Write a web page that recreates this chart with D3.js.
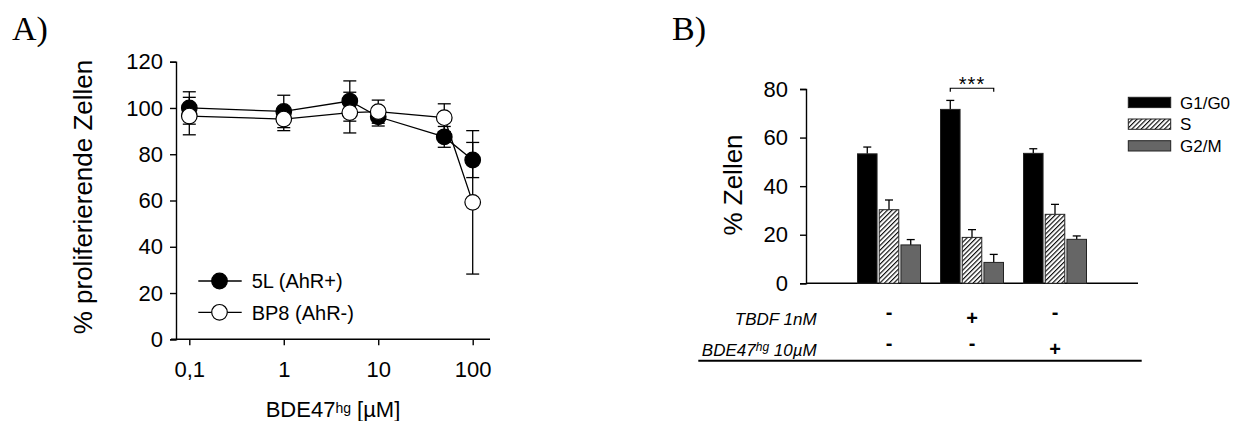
<!DOCTYPE html>
<html><head><meta charset="utf-8">
<script src="https://cdn.jsdelivr.net/npm/d3@7"></script>
<style>body{margin:0;background:#fff}</style>
</head><body>
<svg id="c" width="1239" height="421" xmlns="http://www.w3.org/2000/svg"></svg>
<script>
// ---------- Panel A data ----------
const concentrations = [0.1, 1, 5, 10, 50, 100];
const xTickValuesA = [0.1, 1, 10, 100];
const xTickLabelsA = ["0,1", "1", "10", "100"];
const yTicksA = [0, 20, 40, 60, 80, 100, 120];
const mean5L = [100, 98.5, 103, 96.2, 87.5, 77.5];
const err5L = [7, 7, 8.7, 4, 4.5, 7.6];
const meanBP8 = [96.5, 95.2, 98, 98.4, 95.8, 59.2];
const errBP8 = [8.1, 5, 8.8, 5, 6, 31];
const seriesNamesA = ["5L (AhR+)", "BP8 (AhR-)"];

// ---------- Panel B data ----------
const groupsB = ["ctrl", "TBDF", "BDE47"];
const phases = ["G1/G0", "S", "G2/M"];
const g1g0 = [53.3, 71.6, 53.5];
const g1g0Err = [2.8, 3.7, 1.9];
const sPhase = [30.3, 18.9, 28.4];
const sPhaseErr = [4.0, 3.2, 4.1];
const g2m = [15.8, 8.6, 18.1];
const g2mErr = [2.2, 3.3, 1.4];
const yTicksB = [0, 20, 40, 60, 80];
const tbdfSigns = ["-", "+", "-"];
const bdeSigns = ["-", "-", "+"];
const sigLabel = "***";
const sigGroup = 1; // TBDF group, G1/G0 vs G2/M

const SANS = "'Liberation Sans', Arial, Helvetica, sans-serif";
const SERIF = "'Liberation Serif', 'Times New Roman', serif";
const svg = d3.select("#c");

// ================= PANEL A =================
const xA = d3.scaleLog().domain([0.1, 100]).range([189.3, 472.7]);
const yA = d3.scaleLinear().domain([0, 120]).range([339.3, 61.7]);
const gA = svg.append("g");

gA.append("text").attr("x", 12).attr("y", 40).attr("font-family", SERIF)
  .attr("font-size", 34).text("A)");

const yAxisA = gA.append("g").attr("transform", "translate(176,0)")
  .call(d3.axisLeft(yA).tickValues(yTicksA).tickSizeOuter(0).tickSize(6).tickPadding(7));
const xAxisA = gA.append("g").attr("transform", `translate(0,${yA(0)})`)
  .call(d3.axisBottom(xA).tickValues(xTickValuesA).tickFormat((d, i) => xTickLabelsA[i])
    .tickSizeOuter(0).tickSize(6).tickPadding(16));
xAxisA.select(".domain").remove();
gA.append("line").attr("x1", 171).attr("x2", 490).attr("y1", yA(0)).attr("y2", yA(0))
  .attr("stroke", "#000").attr("stroke-width", 1.4);
[yAxisA, xAxisA].forEach(a => {
  a.selectAll("text").attr("font-family", SANS).attr("font-size", 22).attr("fill", "#000");
  a.selectAll("line, path").attr("stroke", "#000").attr("stroke-width", 1.4);
});

gA.append("text").attr("transform", "translate(92,197) rotate(-90)")
  .attr("text-anchor", "middle").attr("font-family", SANS).attr("font-size", 26)
  .text("% proliferierende Zellen");

const xlab = gA.append("text").attr("x", 333).attr("y", 417).attr("text-anchor", "middle")
  .attr("font-family", SANS).attr("font-size", 22);
xlab.append("tspan").text("BDE47");
xlab.append("tspan").attr("font-size", 14).attr("dy", -4).text("hg");
xlab.append("tspan").attr("dy", 4).text(" [µM]");

const seriesA = [
  { name: seriesNamesA[0], fill: "#000", vals: mean5L, errs: err5L },
  { name: seriesNamesA[1], fill: "#fff", vals: meanBP8, errs: errBP8 }
];
const lineGen = d3.line().x(d => xA(d.x)).y(d => yA(d.y));
seriesA.forEach(s => {
  const pts = concentrations.map((c, i) => ({ x: c, y: s.vals[i], e: s.errs[i] }));
  const eb = gA.append("g");
  pts.forEach(p => {
    const cx = xA(p.x);
    eb.append("line").attr("x1", cx).attr("x2", cx).attr("y1", yA(p.y - p.e)).attr("y2", yA(p.y + p.e))
      .attr("stroke", "#000").attr("stroke-width", 1.3);
    [p.y - p.e, p.y + p.e].forEach(v => eb.append("line").attr("x1", cx - 6.5).attr("x2", cx + 6.5)
      .attr("y1", yA(v)).attr("y2", yA(v)).attr("stroke", "#000").attr("stroke-width", 1.3));
  });
  gA.append("path").datum(pts).attr("d", lineGen).attr("fill", "none")
    .attr("stroke", "#000").attr("stroke-width", 1.3);
  gA.append("g").selectAll("circle").data(pts).join("circle")
    .attr("cx", d => xA(d.x)).attr("cy", d => yA(d.y)).attr("r", 7.8)
    .attr("fill", s.fill).attr("stroke", "#000").attr("stroke-width", 1.2);
});

// legend A
const legA = gA.append("g");
seriesA.forEach((s, i) => {
  const cy = 281 + i * 31.3;
  legA.append("line").attr("x1", 198.3).attr("x2", 241.7).attr("y1", cy).attr("y2", cy)
    .attr("stroke", "#000").attr("stroke-width", 1.3);
  legA.append("circle").attr("cx", 219.5).attr("cy", cy).attr("r", 7.8)
    .attr("fill", s.fill).attr("stroke", "#000").attr("stroke-width", 1.2);
  legA.append("text").attr("x", 251.7).attr("y", cy + 7.2).attr("font-family", SANS)
    .attr("font-size", 20).text(s.name);
});

// ================= PANEL B =================
const gB = svg.append("g");
gB.append("text").attr("x", 672).attr("y", 40).attr("font-family", SERIF)
  .attr("font-size", 34).text("B)");

const defs = svg.append("defs");
const pat = defs.append("pattern").attr("id", "hatch").attr("patternUnits", "userSpaceOnUse")
  .attr("width", 3.3).attr("height", 3.3).attr("patternTransform", "rotate(45)");
pat.append("rect").attr("width", 3.3).attr("height", 3.3).attr("fill", "#fff");
pat.append("line").attr("x1", 0.6).attr("x2", 0.6).attr("y1", 0).attr("y2", 3.3)
  .attr("stroke", "#000").attr("stroke-width", 1.1);

const xB = d3.scaleLinear().domain([0, groupsB.length + 1]).range([806, 1138]);
const yB = d3.scaleLinear().domain([0, 80]).range([283.3, 89]);
const inner = d3.scaleBand().domain(phases).range([-31.5, 31.5]).paddingInner(0.1);
const fills = { "G1/G0": "#000", "S": "url(#hatch)", "G2/M": "#666" };

const yAxisB = gB.append("g").attr("transform", "translate(806,0)")
  .call(d3.axisLeft(yB).tickValues(yTicksB).tickSizeOuter(0).tickSize(6).tickPadding(12));
yAxisB.selectAll("text").attr("font-family", SANS).attr("font-size", 22).attr("fill", "#000");
yAxisB.selectAll("line, path").attr("stroke", "#000").attr("stroke-width", 1.4);
gB.append("line").attr("x1", xB.range()[0]).attr("x2", xB.range()[1])
  .attr("y1", yB(0)).attr("y2", yB(0)).attr("stroke", "#000").attr("stroke-width", 1.4);

gB.append("text").attr("transform", "translate(742,185) rotate(-90)")
  .attr("text-anchor", "middle").attr("font-family", SANS).attr("font-size", 26)
  .text("% Zellen");

const valsB = { "G1/G0": [g1g0, g1g0Err], "S": [sPhase, sPhaseErr], "G2/M": [g2m, g2mErr] };
const barData = [];
groupsB.forEach((g, gi) => phases.forEach(p => barData.push({
  gi, p, v: valsB[p][0][gi], e: valsB[p][1][gi]
})));
const bw = inner.bandwidth();
const bars = gB.append("g");
barData.forEach(d => {
  const x0 = xB(d.gi + 1) + inner(d.p);
  const cx = x0 + bw / 2;
  bars.append("line").attr("x1", cx).attr("x2", cx).attr("y1", yB(d.v)).attr("y2", yB(d.v + d.e))
    .attr("stroke", "#000").attr("stroke-width", 1.3);
  bars.append("line").attr("x1", cx - 4).attr("x2", cx + 4).attr("y1", yB(d.v + d.e)).attr("y2", yB(d.v + d.e))
    .attr("stroke", "#000").attr("stroke-width", 1.3);
  bars.append("rect").attr("x", x0).attr("y", yB(d.v)).attr("width", bw).attr("height", yB(0) - yB(d.v))
    .attr("fill", fills[d.p]).attr("stroke", "#222").attr("stroke-width", 1);
});

// significance bracket
const bx1 = xB(sigGroup + 1) + inner(phases[0]) + bw / 2;
const bx2 = xB(sigGroup + 1) + inner(phases[2]) + bw / 2;
const by = yB(80.3);
gB.append("path").attr("d", `M${bx1},${by + 3.5}V${by}H${bx2}V${by + 3.5}`)
  .attr("fill", "none").attr("stroke", "#000").attr("stroke-width", 1.2);
gB.append("text").attr("x", (bx1 + bx2) / 2).attr("y", by + 3).attr("text-anchor", "middle")
  .attr("font-family", SANS).attr("font-size", 20).attr("letter-spacing", 1).text(sigLabel);

// legend B
phases.forEach((p, i) => {
  const top = 97.3 + i * 21.7;
  gB.append("rect").attr("x", 1128.3).attr("y", top).attr("width", 42.4).attr("height", 10.3)
    .attr("fill", fills[p]).attr("stroke", "#222").attr("stroke-width", 1);
  gB.append("text").attr("x", 1180).attr("y", top + 5.2 + 6.2).attr("font-family", SANS)
    .attr("font-size", 17).text(p);
});

// treatment table
const rows = [
  { base: 325, signs: tbdfSigns, label: t => t.append("tspan").text("TBDF 1nM") },
  { base: 356, signs: bdeSigns, label: t => {
      t.append("tspan").text("BDE47");
      t.append("tspan").attr("font-size", 12).attr("dy", -5).text("hg");
      t.append("tspan").attr("dy", 5).text(" 10µM");
    } }
];
rows.forEach(r => {
  const t = gB.append("text").attr("x", 816.7).attr("y", r.base).attr("text-anchor", "end")
    .attr("font-family", SANS).attr("font-style", "italic").attr("font-size", 17);
  r.label(t);
  r.signs.forEach((s, gi) => {
    gB.append("text").attr("x", xB(gi + 1)).attr("y", s === "-" ? r.base - 6 : r.base)
      .attr("text-anchor", "middle").attr("font-family", SANS).attr("font-size", 20)
      .attr("font-weight", "bold").text(s);
  });
});
gB.append("line").attr("x1", 698.3).attr("x2", 1141.7).attr("y1", 360.7).attr("y2", 360.7)
  .attr("stroke", "#000").attr("stroke-width", 2);
</script>
</body></html>
